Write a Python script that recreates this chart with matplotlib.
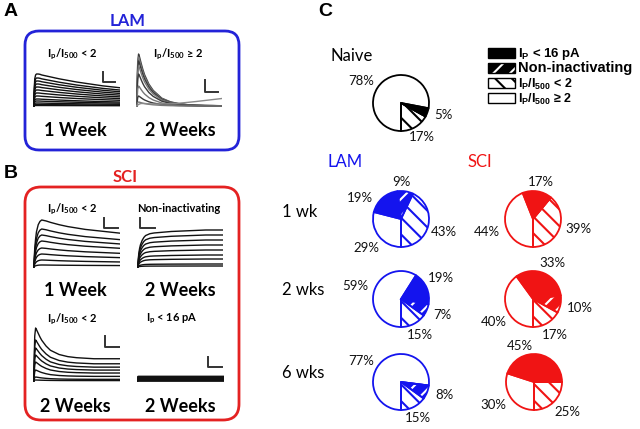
import matplotlib
matplotlib.use('Agg')
import matplotlib.pyplot as plt
from matplotlib.patches import FancyBboxPatch, Rectangle
import numpy as np

plt.rcParams['mathtext.fontset'] = 'custom'
plt.rcParams['mathtext.bf'] = 'Lato:bold'
plt.rcParams['mathtext.rm'] = 'Lato'
plt.rcParams['mathtext.sf'] = 'Liberation Sans:bold'
plt.rcParams['hatch.linewidth'] = 1.5

# ---------------- data ----------------
# time grid of the example traces (ms)
t_ms = [0, 10, 15, 20, 30, 40, 60, 80, 100, 150, 200, 300, 400, 500, 600, 700, 800, 900, 1000]

# LAM 1 week, Ip/I500 < 2
lam1_shape = [0, 0, 0.55, 0.85, 0.97, 1.0, 1.0, 0.99, 0.97, 0.94, 0.91, 0.85, 0.80, 0.75, 0.71, 0.67, 0.63, 0.60, 0.57]
lam1_amp = [32, 28, 25, 22, 19, 16, 13, 10, 7, 5, 3, 1.5, 0.5]
# LAM 2 weeks, Ip/I500 >= 2
lam2_shape = [0, 0, 0.5, 0.85, 1.0, 0.95, 0.82, 0.70, 0.60, 0.42, 0.30, 0.15, 0.08, 0.045, 0.025, 0.015, 0.01, 0.008, 0.005]
lam2_amp = [52, 49, 45, 40, 32, 20, 10, 4]
lam2_slow = [0, 0, 0.5, 1, 1.5, 2, 2.5, 2.5, 2.5, 2.2, 2.0, 2.0, 2.2, 2.8, 3.6, 4.5, 5.5, 6.5, 7.5]
# SCI 1 week, Ip/I500 < 2
sci1_shape = [0, 0, 0.2, 0.4, 0.6, 0.75, 0.9, 0.97, 1.0, 0.98, 0.95, 0.90, 0.86, 0.83, 0.80, 0.78, 0.76, 0.74, 0.72]
sci1_amp = [47, 38, 32, 26, 19, 13, 7, 2]
# SCI 2 weeks, non-inactivating
sci2_shape = [0, 0, 0.2, 0.35, 0.5, 0.6, 0.72, 0.8, 0.85, 0.9, 0.92, 0.94, 0.96, 0.97, 0.98, 0.99, 1.0, 1.0, 1.0]
sci2_amp = [37, 32, 27, 22, 17, 12, 8, 3, 1]
# SCI 2 weeks, Ip/I500 < 2
sci3_shape = [0, 0, 0.5, 0.85, 1.0, 0.97, 0.90, 0.83, 0.77, 0.66, 0.58, 0.50, 0.46, 0.44, 0.43, 0.42, 0.42, 0.42, 0.42]
sci3_amp = [53, 41, 33, 26, 19, 11, 4, 1]
# SCI 2 weeks, Ip < 16 pA
sci4_shape = [0, 0, 1, 1, 1, 1, 1, 1, 1, 1, 1, 1, 1, 1, 1, 1, 1, 1, 1]
sci4_amp = [3, 2, 1, 0]

# Panel C: percentages, pie order (counter-clockwise from 6 o'clock):
# Ip/I500 < 2, non-inactivating, Ip < 16 pA, Ip/I500 >= 2
naive = [17, 0, 5, 78]
lam_1wk = [43, 9, 19, 29]
sci_1wk = [39, 0, 17, 44]
lam_2wk = [15, 7, 19, 59]
sci_2wk = [17, 10, 33, 40]
lam_6wk = [15, 8, 0, 77]
sci_6wk = [25, 0, 45, 30]

# ---------------- layout ----------------
# percent label positions (pixels, same order as the values; None for empty slices)
label_pos = {
    'naive': [(422, 137), None, (443, 115), (361, 81)],
    'lam1': [(444, 232), (401, 182), (360, 198), (366, 248)],
    'sci1': [(578, 229), None, (541, 182), (487, 232)],
    'lam2': [(420, 335), (442, 315), (441, 278), (355, 286)],
    'sci2': [(555, 335), (580, 308), (552, 263), (494, 322)],
    'lam6': [(418, 418), (444, 395), None, (361, 361)],
    'sci6': [(567, 412), None, (520, 346), (493, 405)],
}

BLUE = '#1414ee'
RED = '#f01414'

W, H = 640, 429
fig = plt.figure(figsize=(6.4, 4.29), dpi=100)
ax = fig.add_axes([0, 0, 1, 1])
ax.set_xlim(0, W)
ax.set_ylim(H, 0)
ax.axis('off')


def fax(x0, y0, x1, y1):
    return fig.add_axes([x0 / W, 1 - y1 / H, (x1 - x0) / W, (y1 - y0) / H])


CAL = ['Lato', 'DejaVu Sans']
ARB = ['Liberation Sans', 'DejaVu Sans']

# panel letters
for s, x, y in [('A', 4, 11), ('B', 4, 174), ('C', 318, 12)]:
    ax.text(x, y, s, family=ARB, weight='bold', fontsize=14, ha='left', va='center')

# boxes
ax.add_patch(FancyBboxPatch((25, 31), 214, 119, boxstyle='round,pad=0,rounding_size=14',
                            fill=False, edgecolor='#2323d8', linewidth=2.0))
ax.add_patch(FancyBboxPatch((25, 187), 214, 233, boxstyle='round,pad=0,rounding_size=16',
                            fill=False, edgecolor='#e42222', linewidth=2.0))
ax.text(128, 21, 'LAM', color='#2323d8', family=CAL, weight='bold', fontsize=12, ha='center', va='center')
ax.text(125, 177, 'SCI', color='#e42222', family=CAL, weight='bold', fontsize=12, ha='center', va='center')

# headings
heads = [(72, 54, r'$\mathbf{I_p/I_{500}}$ < 2'), (178, 54, r'$\mathbf{I_p/I_{500}}$ ≥ 2'),
         (72, 209, r'$\mathbf{I_p/I_{500}}$ < 2'), (179, 209, 'Non-inactivating'),
         (72, 319, r'$\mathbf{I_p/I_{500}}$ < 2'), (172, 319, r'$\mathbf{I_p}$ < 16 pA')]
for x, y, s in heads:
    ax.text(x, y, s, family=CAL, weight='bold', fontsize=8, ha='center', va='center')
for x, y, s in [(75, 131, '1 Week'), (180, 131, '2 Weeks'), (75, 290, '1 Week'), (180, 290, '2 Weeks'),
                (75, 407, '2 Weeks'), (180, 407, '2 Weeks')]:
    ax.text(x, y, s, family=CAL, weight='bold', fontsize=13, ha='center', va='center')


def trace_panel(x0, x1, yb, traces, bar, lw=1.0):
    top = yb - 58
    a = fax(x0, top, x1, yb + 4)
    for amp, shape, c in traces:
        a.plot(t_ms, np.asarray(shape) * amp, color=c, lw=lw, solid_joinstyle='round')
    bx, by, bw, bh = bar
    a.plot([bx, bx, bx + bw], [by + bh, by, by], color='#333333', lw=1.4)
    a.set_xlim(0, 1000)
    a.set_ylim(-4, 58)
    a.axis('off')
    return a


trace_panel(33, 120, 106, [(A, lam1_shape, '#111111') for A in lam1_amp], (805, 24, 140, 10))
lam2_tr = [(A, lam2_shape, '#3a3a3a' if i % 2 == 0 else '#777777') for i, A in enumerate(lam2_amp)]
lam2_tr.append((1, lam2_slow, '#888888'))
trace_panel(136, 222, 106, lam2_tr, (800, 14, 150, 12))
trace_panel(33, 120, 267, [(A, sci1_shape, '#111111') for A in sci1_amp], (816, 39, 160, 10))
trace_panel(137, 223, 267, [(A, sci2_shape, '#111111') for A in sci2_amp], (35, 39, 175, 10))
trace_panel(33, 120, 381, [(A, sci3_shape, '#111111') for A in sci3_amp], (828, 34, 172, 11))
trace_panel(137, 224, 380, [(A, sci4_shape, '#111111') for A in sci4_amp], (816, 13, 160, 10), lw=2.0)

# ---------------- Panel C ----------------
ax.text(352, 56, 'Naive', family=CAL, fontsize=12, ha='center', va='center')
ax.text(345, 162, 'LAM', family=CAL, fontsize=12, ha='center', va='center', color=BLUE)
ax.text(480, 162, 'SCI', family=CAL, fontsize=12, ha='center', va='center', color=RED)
for y, s in [(212, '1 wk'), (290, '2 wks'), (373, '6 wks')]:
    ax.text(282, y, s, family=CAL, fontsize=12, ha='left', va='center')


def draw_pie(cx, cy, r, vals, color, key):
    a = fax(cx - r * 1.02, cy - r * 1.02, cx + r * 1.02, cy + r * 1.02)
    styles = [dict(fc='white', ec=color, hatch='\\\\'),
              dict(fc=color, ec='white', hatch='//'),
              dict(fc=color, ec=color, hatch=None),
              dict(fc='white', ec=color, hatch=None)]
    wedges, _ = a.pie(vals, startangle=-90, counterclock=True, radius=1,
                      wedgeprops=dict(linewidth=0))
    for w, st in zip(wedges, styles):
        w.set_facecolor(st['fc'])
        w.set_edgecolor(st['ec'])
        w.set_linewidth(0)
        if st['hatch']:
            w.set_hatch(st['hatch'])
    a.pie(vals, startangle=-90, counterclock=True, radius=1,
          wedgeprops=dict(fill=False, edgecolor=color, linewidth=1.3))
    a.set_xlim(-1.02, 1.02)
    a.set_ylim(-1.02, 1.02)
    a.set_aspect('equal')
    a.axis('off')
    for v, pos in zip(vals, label_pos[key]):
        if v > 0 and pos is not None:
            ax.text(pos[0], pos[1], f'{v}%', family=CAL, fontsize=9.5, color='#111111',
                    ha='center', va='center')


R = 28
draw_pie(401, 103, R, naive, 'black', 'naive')
draw_pie(401, 219, R, lam_1wk, BLUE, 'lam1')
draw_pie(533, 219, R, sci_1wk, RED, 'sci1')
draw_pie(401, 299, R, lam_2wk, BLUE, 'lam2')
draw_pie(533, 299, R, sci_2wk, RED, 'sci2')
draw_pie(401, 382, R, lam_6wk, BLUE, 'lam6')
draw_pie(534, 382, R, sci_6wk, RED, 'sci6')

# legend
leg_labels = [r'$\mathsf{I_P}$ < 16 pA', 'Non-inactivating', r'$\mathsf{I_P/I_{500}}$ < 2', r'$\mathsf{I_P/I_{500}}$ ≥ 2']
leg_sizes = [9.5, 10.5, 9.0, 9.0]
leg_styles = [dict(fc='black', ec='black', hatch=None), dict(fc='black', ec='white', hatch='//'),
              dict(fc='white', ec='black', hatch='\\\\'), dict(fc='white', ec='black', hatch=None)]
for i, (lab, fs, st) in enumerate(zip(leg_labels, leg_sizes, leg_styles)):
    yc = 53 + i * 15
    ax.add_patch(Rectangle((488, yc - 5), 27, 10, facecolor=st['fc'], edgecolor=st['ec'],
                           hatch=st['hatch'], linewidth=0))
    ax.add_patch(Rectangle((488, yc - 5), 27, 10, fill=False, edgecolor='black', linewidth=1.0))
    ax.text(518, yc + (1 if i != 1 else 0), lab, family=ARB, weight='bold', fontsize=fs,
            ha='left', va='center')

fig.savefig('out.png', dpi=100)
